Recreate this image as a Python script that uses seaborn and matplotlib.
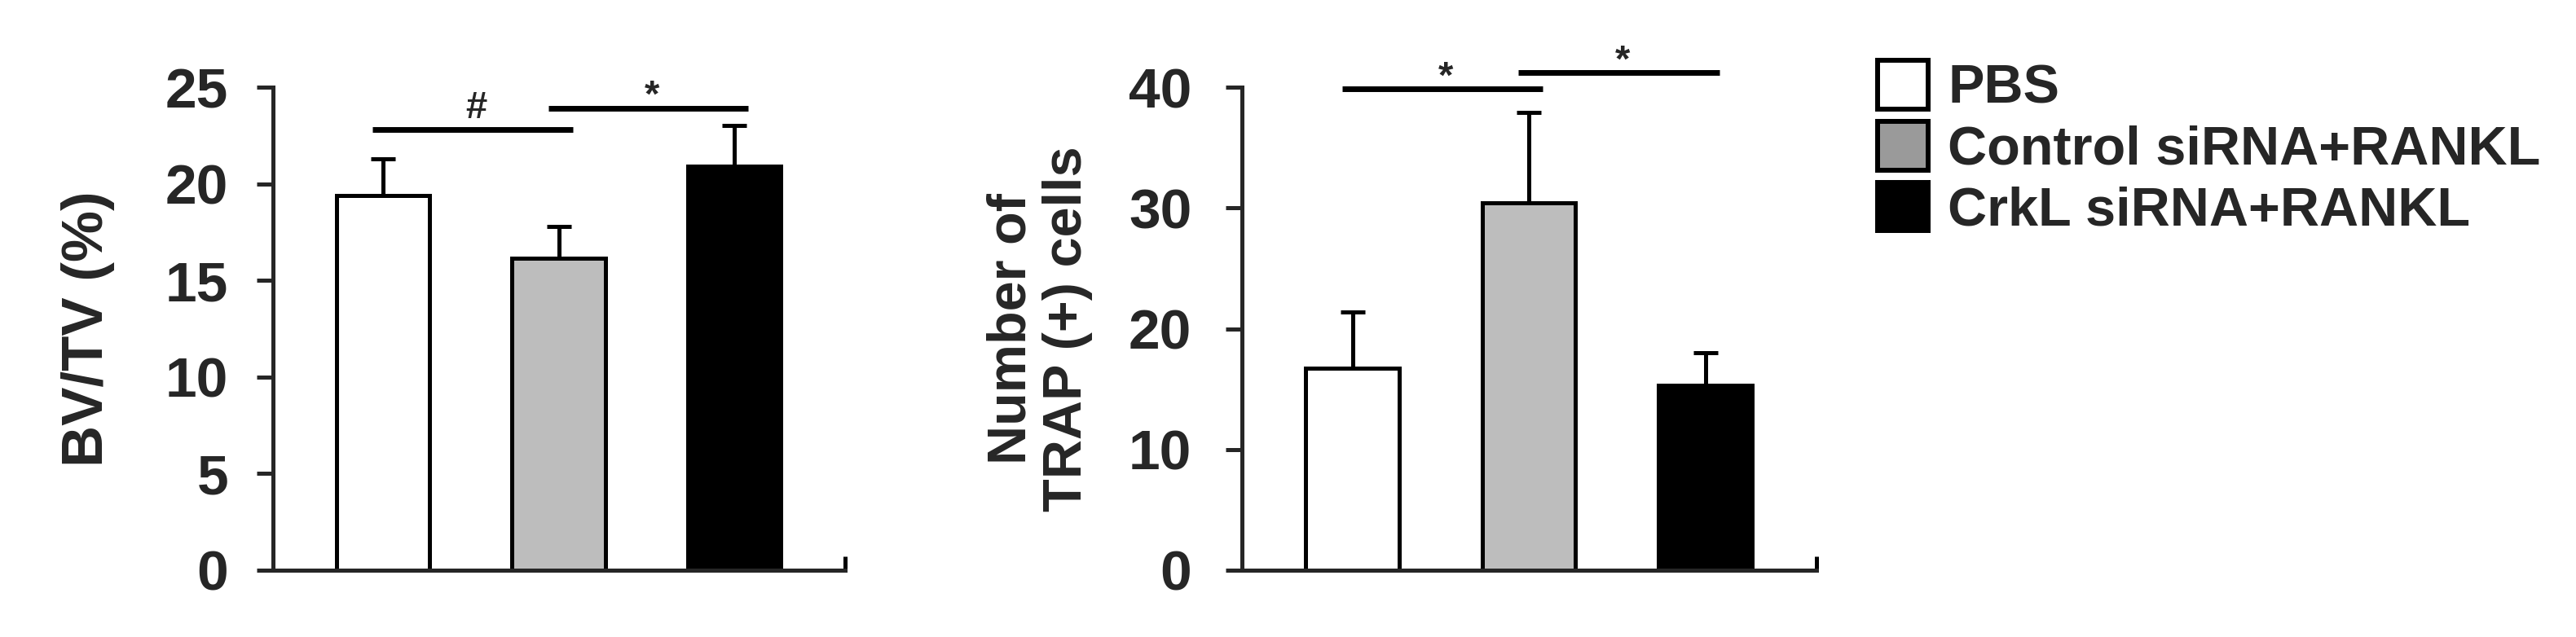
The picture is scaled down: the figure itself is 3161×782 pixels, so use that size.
import matplotlib
matplotlib.use("Agg")
import matplotlib.pyplot as plt
import seaborn as sns
import numpy as np
from matplotlib.patches import Patch

# ---------------- data ----------------
groups = ["PBS", "Control siRNA+RANKL", "CrkL siRNA+RANKL"]
bvtv_mean = [19.4, 16.15, 20.9]
bvtv_err = [1.9, 1.65, 2.1]
trap_mean = [16.7, 30.4, 15.3]
trap_err = [4.7, 7.5, 2.7]
bvtv_ticks = [0, 5, 10, 15, 20, 25]
trap_ticks = [0, 10, 20, 30, 40]
bvtv_label = "BV/TV (%)"
trap_label = "Number of\nTRAP (+) cells"
# significance annotations: (symbol, start group index, end group index, level)
bvtv_sig = [("#", 0, 1, 22.8), ("*", 1, 2, 23.9)]
trap_sig = [("*", 0, 1, 39.85), ("*", 1, 2, 41.2)]

bar_colors = ["#ffffff", "#bdbdbd", "#000000"]
legend_colors = ["#ffffff", "#9a9a9a", "#000000"]

sns.set_style("ticks")
plt.rcParams["font.family"] = ["Liberation Sans", "DejaVu Sans"]
plt.rcParams["font.weight"] = "bold"

fig = plt.figure(figsize=(31.61, 7.82), dpi=100)
ax1 = fig.add_axes([0.10598, 0.10486, 0.22208, 0.75831])
ax2 = fig.add_axes([0.48213, 0.10486, 0.22303, 0.75831])

LW = 3.6


def panel(ax, means, errs, ticks, ylabel, label_x, pad, sig, label_size):
    sns.barplot(x=groups, y=means, hue=groups, palette=bar_colors, width=0.53,
                edgecolor="black", linewidth=LW, legend=False, ax=ax,
                saturation=1)
    ax.errorbar(np.arange(len(groups)), means,
                yerr=[np.zeros(len(errs)), errs], fmt="none", ecolor="black",
                elinewidth=LW, capsize=11, capthick=LW, zorder=1)
    ax.set_xlim(-0.626, 2.63)
    ax.set_ylim(0, ticks[-1])
    ax.set_yticks(ticks)
    ax.set_xticks([])
    ax.set_xlabel("")
    sns.despine(ax=ax)
    for s in ("left", "bottom"):
        ax.spines[s].set_linewidth(LW)
    ax.tick_params(axis="y", length=14.4, width=LW, pad=pad, labelsize=50)
    for t in ax.get_yticklabels():
        t.set_fontweight("bold")
    ax.plot([1, 1], [0, 0.029], transform=ax.transAxes, color="black",
            lw=LW, clip_on=False, solid_capstyle="butt")
    ax.set_ylabel(ylabel, fontsize=label_size, fontweight="bold", va="center",
                  linespacing=1.15)
    ax.yaxis.set_label_coords(label_x, 0.5)
    for sym, i0, i1, lvl in sig:
        x0 = i0 - 0.06
        x1 = i1 + 0.08
        ax.plot([x0, x1], [lvl, lvl], color="black", lw=5, clip_on=False,
                solid_capstyle="butt")
        ax.text((i0 + i1) / 2 + 0.03, lvl + (0.6 if sym == "#" else 0.1), sym,
                ha="center", va="baseline", fontsize=34, fontweight="bold",
                clip_on=False)


panel(ax1, bvtv_mean, bvtv_err, bvtv_ticks, bvtv_label, -0.323, 25, bvtv_sig, 51)
panel(ax2, trap_mean, trap_err, trap_ticks, trap_label, -0.352, 30, trap_sig, 48)

handles = [Patch(facecolor=c, edgecolor="black", linewidth=4.3, label=g)
           for g, c in zip(groups, legend_colors)]
fig.legend(handles=handles, loc="upper left", bbox_to_anchor=(0.7289, 0.905),
           frameon=False, prop={"size": 48, "weight": "bold"},
           handlelength=0.93, handleheight=1.0, handletextpad=0.36,
           labelspacing=0.12, borderpad=0, borderaxespad=0)

fig.savefig("out.png", dpi=100, facecolor="white")
